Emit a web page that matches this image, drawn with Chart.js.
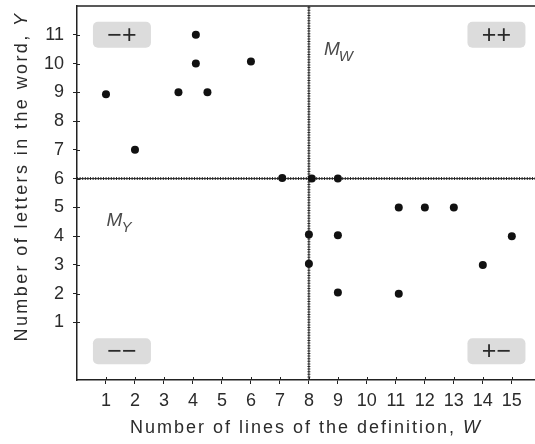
<!DOCTYPE html>
<html>
<head>
<meta charset="utf-8">
<script src="https://cdn.jsdelivr.net/npm/chart.js@4/dist/chart.umd.min.js"></script>
<style>
  html, body { margin: 0; padding: 0; background: #fff; }
  #wrap { width: 535px; height: 444px; }
</style>
</head>
<body>
<div id="wrap"><canvas id="chart" width="535" height="444"></canvas></div>
<script>
// Words: number of lines of the definition (W) and number of letters (Y)
const definitionLines = [1, 2, 3.5, 4.1, 4.1, 4.5, 6, 7.08, 8.1, 9, 11.1, 12, 13, 8, 9, 15, 8, 14, 9, 11.1];
const wordLetters     = [8.93, 7, 9, 11, 10, 9, 10.07, 6.02, 6, 6, 5, 5, 5, 4.06, 4.03, 4, 3.04, 3, 2.04, 2];

// Means of the two variables
const meanW = 8;
const meanY = 6;

// Tick labels
const xTickValues = [1, 2, 3, 4, 5, 6, 7, 8, 9, 10, 11, 12, 13, 14, 15];
const yTickValues = [1, 2, 3, 4, 5, 6, 7, 8, 9, 10, 11];

// Quadrant sign badges
const quadrantSigns = ['\u2212+', '++', '\u2212\u2212', '+\u2212'];
const quadrantW     = [1.55, 14.47, 1.55, 14.47];
const quadrantY     = [11, 11, 0, 0];

// Mean line labels (M with subscript)
const meanLabelSubs = ['W', 'Y'];
const meanLabelW    = [8.52, 1.02];
const meanLabelY    = [10.3, 4.36];

const X_MIN = 0, X_MAX = 15.8, Y_MIN = -1, Y_MAX = 12;
const AXIS_COLOR = '#222';
const TEXT_COLOR = '#2b2b2b';
const FONT = '"Liberation Sans", Arial, Helvetica, sans-serif';

const points = definitionLines.map((w, i) => ({ x: w, y: wordLetters[i] }));
const vLine = [{ x: meanW, y: Y_MIN }, { x: meanW, y: Y_MAX }];
const hLine = [{ x: X_MIN, y: meanY }, { x: X_MAX, y: meanY }];

function meanLineSets(data) {
  return [
    { data, showLine: true, pointRadius: 0, borderColor: '#222', borderWidth: 1, order: 2 },
    { data, showLine: true, pointRadius: 0, borderColor: '#333', borderWidth: 3, borderDash: [1, 1.6], order: 3 }
  ];
}

// Top frame line, inner halves of tick marks, badges, mean labels and axis titles
const decorations = {
  id: 'decorations',
  beforeDatasetsDraw(chart) {
    const { ctx, scales: { x, y } } = chart;
    ctx.save();
    quadrantSigns.forEach((s, i) => {
      const cx = x.getPixelForValue(quadrantW[i]);
      const cy = y.getPixelForValue(quadrantY[i]);
      const w = 58, h = 26;
      ctx.fillStyle = '#dcdcdc';
      ctx.beginPath();
      ctx.roundRect(cx - w / 2, cy - h / 2, w, h, 5);
      ctx.fill();
      ctx.fillStyle = '#2a2a2a';
      ctx.font = '25px ' + FONT;
      ctx.textAlign = 'center';
      ctx.textBaseline = 'middle';
      ctx.fillText(s, cx, cy + 1);
    });
    meanLabelSubs.forEach((sub, i) => {
      const px = x.getPixelForValue(meanLabelW[i]);
      const py = y.getPixelForValue(meanLabelY[i]);
      ctx.fillStyle = '#4a4a4a';
      ctx.textAlign = 'left';
      ctx.textBaseline = 'alphabetic';
      ctx.font = 'italic 19px ' + FONT;
      ctx.fillText('M', px, py);
      const mw = ctx.measureText('M').width;
      ctx.font = 'italic 15px ' + FONT;
      ctx.fillText(sub, px + mw - 1, py + 6);
    });
    ctx.restore();
  },
  afterDraw(chart) {
    const { ctx, chartArea: a, scales: { x, y } } = chart;
    ctx.save();
    ctx.strokeStyle = AXIS_COLOR;
    ctx.lineWidth = 1.5;
    ctx.beginPath();
    ctx.moveTo(a.left - 0.75, a.top);
    ctx.lineTo(chart.width, a.top);
    ctx.stroke();
    ctx.lineWidth = 1;
    ctx.beginPath();
    xTickValues.forEach(v => {
      const px = Math.round(x.getPixelForValue(v)) + 0.5;
      ctx.moveTo(px, a.bottom);
      ctx.lineTo(px, a.bottom - 3);
    });
    yTickValues.forEach(v => {
      const py = Math.round(y.getPixelForValue(v)) + 0.5;
      ctx.moveTo(a.left, py);
      ctx.lineTo(a.left + 3, py);
    });
    ctx.stroke();

    // axis titles
    ctx.fillStyle = TEXT_COLOR;
    ctx.textBaseline = 'alphabetic';
    ctx.textAlign = 'left';
    const drawTitle = (plain, italic, cx, cy, rot, spacing) => {
      ctx.save();
      ctx.translate(cx, cy);
      ctx.rotate(rot);
      ctx.letterSpacing = spacing + 'px';
      ctx.font = '18px ' + FONT;
      const w1 = ctx.measureText(plain).width;
      ctx.font = 'italic 18px ' + FONT;
      const w2 = ctx.measureText(italic).width;
      const start = -(w1 + w2) / 2;
      ctx.font = '18px ' + FONT;
      ctx.fillText(plain, start, 0);
      ctx.font = 'italic 18px ' + FONT;
      ctx.fillText(italic, start + w1, 0);
      ctx.restore();
    };
    drawTitle('Number of lines of the definition, ', 'W', (a.left + a.right) / 2, 433, 0, 2);
    drawTitle('Number of letters in the word, ', 'Y', 27, 176.5, -Math.PI / 2, 2.4);
    ctx.restore();
  }
};

function axis(min, max, values, fit, pad) {
  return {
    type: 'linear',
    min, max,
    afterBuildTicks: s => { s.ticks = values.map(v => ({ value: v })); },
    afterFit: fit,
    grid: { drawOnChartArea: false, drawTicks: true, tickLength: 4, color: AXIS_COLOR, lineWidth: 1 },
    border: { color: AXIS_COLOR, width: 1.5 },
    ticks: {
      autoSkip: false, maxRotation: 0, minRotation: 0,
      color: TEXT_COLOR,
      font: { family: FONT, size: 18 },
      padding: pad
    }
  };
}

new Chart(document.getElementById('chart'), {
  type: 'scatter',
  data: {
    datasets: [
      { data: points, pointRadius: 4, pointHoverRadius: 4, backgroundColor: '#111', borderColor: '#111', borderWidth: 0, order: 0 },
      ...meanLineSets(vLine),
      ...meanLineSets(hLine)
    ]
  },
  options: {
    responsive: false,
    animation: false,
    events: [],
    layout: { autoPadding: false, padding: { top: 6, right: 0, left: 0, bottom: 0 } },
    plugins: { legend: { display: false }, tooltip: { enabled: false } },
    scales: {
      x: axis(X_MIN, X_MAX, xTickValues, s => { s.height = 64; s.paddingLeft = 0; s.paddingRight = 0; }, 6),
      y: axis(Y_MIN, Y_MAX, yTickValues, s => { s.width = 77; s.paddingTop = 0; s.paddingBottom = 0; }, 9)
    }
  },
  plugins: [decorations]
});
</script>
</body>
</html>
